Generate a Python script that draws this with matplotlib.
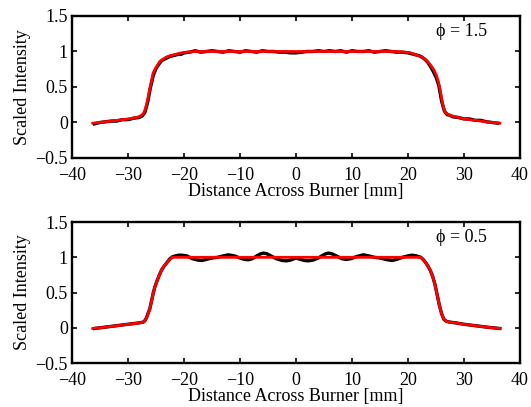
import matplotlib
matplotlib.use("Agg")
import matplotlib.pyplot as plt

plt.rcParams['font.family'] = ['Liberation Serif', 'DejaVu Serif']
plt.rcParams['font.size'] = 13
plt.rcParams['axes.unicode_minus'] = True

# phi = 1.5 : measured profile (black) and fit (red)
x_meas1 = [-36, -35, -34, -33, -32, -31, -30, -29, -28, -27.5, -27, -26.5, -26, -25.5,
           -25, -24.5, -24, -23.5, -23, -22.5, -22, -21.5, -21, -20.5, -20, -19, -18,
           -17, -16, -15, -14, -13, -12, -11, -10, -9, -8, -7, -6, -5, -4, -3, -2, -1,
           0, 1, 2, 3, 4, 5, 6, 7, 8, 9, 10, 11, 12, 13, 14, 15, 16, 17, 18, 19, 20,
           21, 21.5, 22, 22.5, 23, 23.5, 24, 24.5, 25, 25.5, 26, 26.5, 27, 27.5, 28, 29,
           30, 31, 32, 33, 34, 35, 36]
y_meas1 = [-0.02, 0.0, 0.01, 0.02, 0.02, 0.04, 0.04, 0.06, 0.07, 0.09, 0.14, 0.28, 0.49, 0.66,
           0.76, 0.82, 0.87, 0.89, 0.91, 0.93, 0.94, 0.95, 0.96, 0.96, 0.98, 0.99, 1.01,
           0.99, 1.0, 1.01, 1.0, 0.99, 1.01, 1.0, 0.99, 1.01, 1.0, 0.99, 1.01, 1.0, 1.0, 0.99, 0.99, 0.98,
           0.98, 0.99, 1.0, 1.0, 1.01, 1.0, 1.01, 1.0, 1.01, 0.99, 1.01, 1.0, 1.0, 1.01, 0.99, 1.0, 1.01, 1.0, 0.99, 0.99, 0.98,
           0.96, 0.95, 0.94, 0.92, 0.89, 0.85, 0.79, 0.72, 0.64, 0.52, 0.30, 0.16, 0.11, 0.10, 0.08, 0.07,
           0.05, 0.05, 0.03, 0.03, 0.01, 0.0, -0.01]
x_fit1 = [-36.3, -34, -32, -30, -28.5, -27.8, -27.3, -27.0, -26.7, -26.4, -26.1, -25.8, -25.5,
          -25.1, -24.7, -24.3, -23.8, -23.2, -22.5, -21.5, -20.5, -19.5, -18, -10, 0, 10, 18,
          19.5, 20.5, 21.5, 22.5, 23.2, 23.8, 24.3, 24.7, 25.1, 25.4, 25.7, 26.0, 26.3, 26.6,
          27.0, 27.5, 28.5, 30, 32, 34, 36.4]
y_fit1 = [-0.01, 0.01, 0.03, 0.05, 0.07, 0.09, 0.12, 0.17, 0.25, 0.36, 0.48, 0.59, 0.70,
          0.76, 0.81, 0.86, 0.89, 0.92, 0.94, 0.96, 0.98, 0.99, 1.0, 1.0, 1.0, 1.0, 1.0,
          0.99, 0.98, 0.95, 0.92, 0.88, 0.83, 0.78, 0.73, 0.66, 0.58, 0.48, 0.34, 0.22, 0.15,
          0.12, 0.10, 0.08, 0.05, 0.03, 0.01, -0.01]

# phi = 0.5
x_meas2 = [-36, -34, -32, -30, -28, -27.3, -27.0, -26.7, -26.4, -26.1, -25.8, -25.5, -25.2,
           -24.8, -24.4, -24.0, -23.5, -23.0, -22.5, -22, -21, -20.4, -19.5, -18.5, -17.5,
           -16.8, -16, -15, -14, -13, -12.1, -11, -10, -9.2, -8.5, -7.8, -7, -6.3, -5.8,
           -5.2, -4.5, -3.5, -2.5, -1.7, -1, 0, 0.8, 1.5, 2.2, 3, 4, 4.8, 5.3, 5.8, 6.4,
           7.2, 8.2, 9, 9.8, 10.8, 12, 13, 14, 15, 16, 17.1, 18, 19, 20, 20.7, 21.5, 22.3,
           22.7, 23.2, 23.6, 24.0, 24.4, 24.8, 25.2, 25.6, 26.0, 26.4, 26.9, 27.5, 28.5, 30,
           32, 34, 36.4]
y_meas2 = [-0.01, 0.01, 0.03, 0.05, 0.07, 0.08, 0.10, 0.14, 0.21, 0.27, 0.38, 0.49, 0.58,
           0.67, 0.75, 0.82, 0.88, 0.93, 0.98, 1.01, 1.03, 1.03, 1.02, 0.98, 0.96,
           0.955, 0.97, 0.99, 1.0, 1.02, 1.035, 1.02, 0.99, 0.97, 0.965, 0.98, 1.02, 1.05, 1.06,
           1.05, 1.02, 0.98, 0.955, 0.95, 0.96, 0.99, 0.97, 0.955, 0.95, 0.96, 0.99, 1.03, 1.05, 1.06, 1.05,
           1.02, 0.98, 0.97, 0.98, 1.01, 1.035, 1.02, 1.0, 0.99, 0.97, 0.955, 0.97, 1.0, 1.02, 1.03, 1.02, 1.0,
           0.97, 0.92, 0.87, 0.81, 0.73, 0.62, 0.47, 0.32, 0.20, 0.12, 0.09, 0.08, 0.07, 0.05,
           0.03, 0.01, -0.01]
x_fit2 = [-36.3, -34, -32, -30, -28, -27.3, -27.0, -26.7, -26.4, -26.1, -25.8, -25.5, -25.2,
          -24.8, -24.4, -24.0, -23.5, -23.0, -22.5, -22.1, -15, 0, 15, 22.3, 22.7, 23.2, 23.6,
          24.0, 24.4, 24.8, 25.2, 25.6, 26.0, 26.4, 26.9, 27.5, 28.5, 30, 32, 34, 36.4]
y_fit2 = [-0.01, 0.01, 0.03, 0.05, 0.07, 0.08, 0.10, 0.14, 0.20, 0.27, 0.38, 0.49, 0.58,
          0.67, 0.75, 0.82, 0.88, 0.93, 0.97, 1.0, 1.0, 1.0, 1.0, 1.0, 0.97, 0.92, 0.87,
          0.81, 0.73, 0.62, 0.47, 0.32, 0.20, 0.12, 0.09, 0.08, 0.07, 0.05, 0.03, 0.01, -0.01]

labels = ['\u03d5 = 1.5', '\u03d5 = 0.5']
xticks = [-40, -30, -20, -10, 0, 10, 20, 30, 40]
yticks = [-0.5, 0, 0.5, 1, 1.5]
yticklabels = ['\u22120.5', '0', '0.5', '1', '1.5']

fig = plt.figure(figsize=(5.31, 4.07), dpi=100)
ax1 = fig.add_axes([0.1356, 0.6118, 0.8437, 0.349])
ax2 = fig.add_axes([0.1356, 0.108, 0.8437, 0.3464])

data = [(x_meas1, y_meas1, x_fit1, y_fit1), (x_meas2, y_meas2, x_fit2, y_fit2)]
for ax, (xm, ym, xf, yf), lab in zip([ax1, ax2], data, labels):
    ax.plot(xm, ym, color='black', lw=2.4)
    ax.plot(xf, yf, color='red', lw=2.0)
    ax.set_xlim(-40, 40)
    ax.set_ylim(-0.5, 1.5)
    ax.set_xticks(xticks)
    ax.set_yticks(yticks)
    ax.set_yticklabels(yticklabels)
    ax.tick_params(direction='in', top=True, right=True, length=3.5, width=1.2,
                   labelsize=13)
    ax.tick_params(axis='x', pad=6.5)
    ax.tick_params(axis='y', pad=3)
    for sp in ax.spines.values():
        sp.set_linewidth(1.7)
    ax.set_xlabel('Distance Across Burner [mm]', fontsize=13, labelpad=-1)
    ax.set_ylabel('Scaled Intensity', fontsize=13, labelpad=3)
    ax.text(25, 1.28, lab, fontsize=13, va='center')

fig.savefig('out.png', dpi=100)
